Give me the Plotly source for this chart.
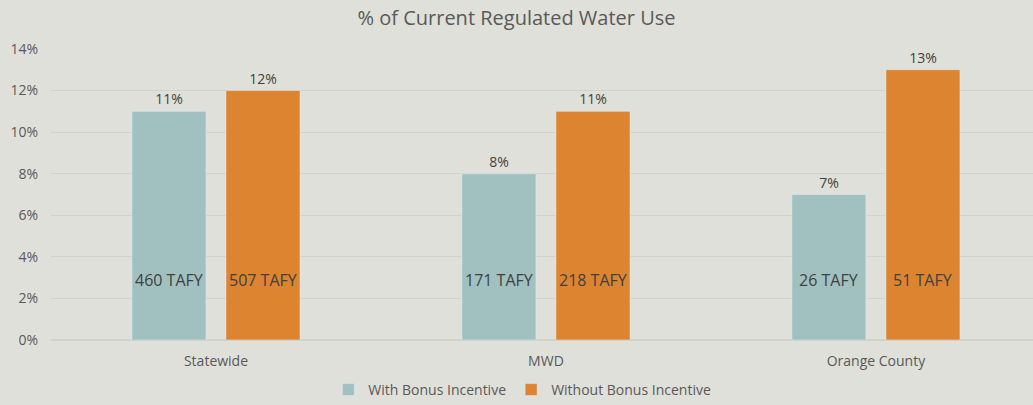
import plotly.graph_objects as go

regions = ["Statewide", "MWD", "Orange County"]
with_bonus = [0.11, 0.08, 0.07]
without_bonus = [0.12, 0.11, 0.13]
with_tafy = ["460 TAFY", "171 TAFY", "26 TAFY"]
without_tafy = ["507 TAFY", "218 TAFY", "51 TAFY"]
y_ticks = [0, 0.02, 0.04, 0.06, 0.08, 0.10, 0.12, 0.14]

FONT = "Open Sans, Lato, sans-serif"
BG = "#E0E0DA"

fig = go.Figure()
fig.add_trace(go.Bar(
    x=regions, y=with_bonus, name="With Bonus Incentive",
    marker=dict(color="#A0C1C0"),
    text=[f"{v:.0%}" for v in with_bonus], textposition="outside",
    textfont=dict(size=14, color="#404040"), cliponaxis=False
))
fig.add_trace(go.Bar(
    x=regions, y=without_bonus, name="Without Bonus Incentive",
    marker=dict(color="#DC8430"),
    text=[f"{v:.0%}" for v in without_bonus], textposition="outside",
    textfont=dict(size=14, color="#404040"), cliponaxis=False
))

# TAFY labels sit at a fixed height inside the bars
for r, a, b in zip(regions, with_tafy, without_tafy):
    fig.add_annotation(x=r, y=0.029, text=a, showarrow=False, xshift=-47,
                       font=dict(size=16, color="#404040", family=FONT))
    fig.add_annotation(x=r, y=0.029, text=b, showarrow=False, xshift=47,
                       font=dict(size=16, color="#404040", family=FONT))

fig.update_layout(
    width=1033, height=405,
    paper_bgcolor=BG, plot_bgcolor=BG,
    font=dict(family=FONT, color="#595959", size=14),
    title=dict(text="% of Current Regulated Water Use", x=0.5, xanchor="center",
               y=0.955, yanchor="middle", font=dict(size=20, color="#595959")),
    barmode="group", bargap=0.43, bargroupgap=0.213,
    margin=dict(t=49, b=65, l=51, r=0),
    xaxis=dict(range=[-0.5, 2.476], showgrid=False, showline=False, ticks="",
               automargin=False, ticklabelstandoff=11,
               tickfont=dict(size=14, color="#595959")),
    yaxis=dict(range=[0, 0.14], tickvals=y_ticks, tickformat=".0%",
               gridcolor="#D2D2CC", zeroline=True, zerolinecolor="#D2D2CC",
               automargin=False, ticklabelstandoff=12,
               tickfont=dict(size=14, color="#595959")),
    legend=dict(orientation="h", x=0.48, xanchor="center",
                yref="container", y=0.037, yanchor="middle",
                font=dict(size=14, color="#595959"), traceorder="normal",
                itemwidth=30),
    showlegend=True
)

fig.write_html("out.html", config={"displayModeBar": False},
               post_script="document.body.style.margin='0';document.body.style.background='#E0E0DA';")
